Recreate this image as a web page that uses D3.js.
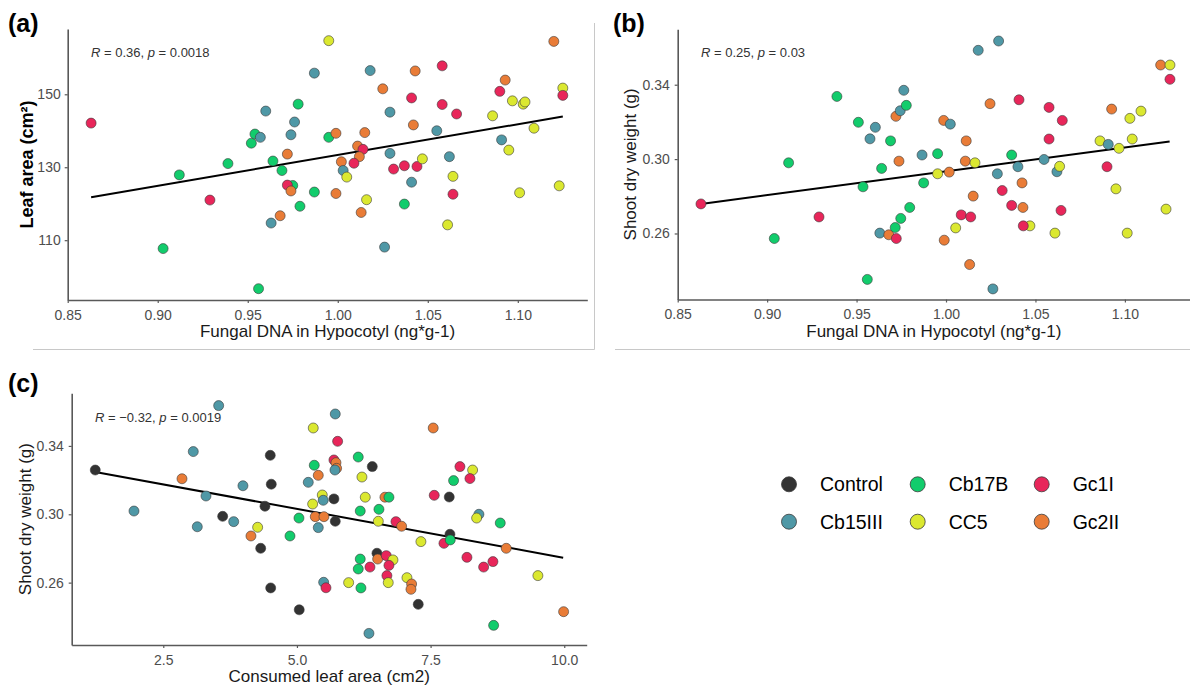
<!DOCTYPE html>
<html><head><meta charset="utf-8">
<script src="https://cdn.jsdelivr.net/npm/d3@7"></script>
<style>
body{margin:0;background:#fff;}
svg{display:block;font-family:"Liberation Sans",Arial,sans-serif;}
</style></head>
<body>
<svg id="chart" width="1190" height="687"></svg>
<script>
// ---------- DATA ----------
const groups = ["Control","Cb15III","Cb17B","CC5","Gc1I","Gc2II"];
const groupColors = ["#333333","#4f98a6","#12cc6c","#dbe830","#e8265a","#e97c37"];
const legendOrder = ["Control","Cb17B","Gc1I","Cb15III","CC5","Gc2II"];

// Panel (a): Fungal DNA vs Leaf area
const aX = [0.863,0.903,0.912,0.929,0.939,0.952,0.954,0.957,0.960,0.956,0.964,0.963,0.969,0.968,0.972,0.975,0.972,0.974,0.974,0.976,0.978,0.979,
0.995,0.987,1.018,1.043,1.058,1.025,1.041,1.029,1.058,1.066,1.042,1.055,0.995,0.999,1.015,1.011,1.014,1.012,1.009,1.002,1.003,1.005,
1.029,1.031,1.037,1.044,1.047,1.041,1.062,1.064,1.064,1.061,1.026,0.987,0.999,1.016,1.013,1.037,1.086,1.090,1.093,1.097,1.103,1.104,
1.109,1.091,1.095,1.101,1.123,1.120,1.125,1.125];
const aY = [142.1,107.7,127.9,121.0,131.0,136.6,139.1,138.2,145.4,96.7,131.7,114.7,129.1,116.7,133.6,125.0,125.1,123.5,138.9,142.4,147.3,119.3,
164.7,155.8,156.5,156.4,157.8,151.5,149.0,145.1,147.2,144.6,141.6,140.0,138.2,139.3,139.5,135.8,134.9,132.9,131.1,131.5,129.1,127.3,
133.8,129.5,130.4,130.2,132.3,125.9,132.9,127.5,122.6,114.2,108.1,123.2,122.8,121.1,117.6,119.9,144.1,150.8,153.9,148.2,147.3,147.9,
140.7,137.5,134.7,123.0,124.9,164.5,151.7,149.7];
const aG = ["Gc1I","Cb17B","Cb17B","Gc1I","Cb17B","Cb17B","Cb17B","Cb15III","Cb15III","Cb17B","Cb17B","Cb15III","Cb17B","Gc2II","Gc2II","Cb17B","Gc1I","Gc2II","Cb15III","Cb15III","Cb17B","Cb17B",
"CC5","Cb15III","Cb15III","Gc2II","Gc1I","Gc2II","Gc1I","Cb15III","Gc1I","Gc1I","Gc2II","Cb15III","Cb17B","Gc2II","Gc2II","Gc2II","Gc1I","Gc2II","Gc1I","Gc2II","Cb15III","CC5",
"Cb15III","Gc1I","Gc1I","Gc1I","CC5","Cb15III","Cb15III","CC5","Gc1I","CC5","Cb15III","Cb17B","Gc2II","CC5","Gc2II","Cb17B","CC5","Gc1I","Gc2II","CC5","CC5","CC5",
"CC5","Cb15III","CC5","CC5","CC5","Gc2II","CC5","Gc1I"];
const aFitX = [0.863,1.125];
const aFitY = [121.8,143.9];

// Panel (b): Fungal DNA vs Shoot dry weight
const bX = [0.863,0.912,0.929,0.904,0.939,0.951,0.9605,0.9575,0.969,0.964,0.9536,0.963,0.968,0.956,0.972,0.9744,0.9764,0.9778,0.9737,0.9716,0.9722,0.9747,0.9797,
0.9875,0.9866,0.9953,0.9953,0.9987,1.0024,1.0018,0.999,1.0054,1.0085,1.0138,1.0152,1.0132,1.0113,1.0108,1.0162,1.018,1.0294,1.0246,1.0287,1.0314,1.0367,1.0367,
1.0402,1.0408,1.0425,1.043,1.0469,1.0432,1.0262,1.0548,1.0576,1.0576,1.065,1.062,1.0635,1.0643,1.0609,1.0861,1.0907,1.0926,1.09,1.095,1.0967,1.1028,1.1041,
1.109,1.1013,1.12,1.1252,1.1252,1.123];
const bY = [0.2759,0.298,0.2689,0.2573,0.3337,0.3198,0.3171,0.3109,0.3098,0.295,0.2851,0.2602,0.2593,0.2353,0.323,0.326,0.337,0.3289,0.2989,0.2632,0.2573,0.2681,0.274,
0.2872,0.3022,0.3029,0.2921,0.3208,0.3188,0.293,0.2564,0.263,0.27,0.2689,0.2801,0.2433,0.3098,0.2989,0.298,0.3585,0.3635,0.3298,0.2921,0.2831,0.2751,0.3022,
0.2959,0.3319,0.2872,0.274,0.2641,0.2641,0.2302,0.2998,0.3278,0.3108,0.3208,0.2932,0.2961,0.2724,0.2602,0.3098,0.3079,0.3269,0.2959,0.284,0.3058,0.3219,0.3108,
0.3258,0.2602,0.3506,0.3506,0.3429,0.2731];
const bG = ["Gc1I","Cb17B","Gc1I","Cb17B","Cb17B","Cb17B","Cb15III","Cb15III","Cb17B","Cb17B","Cb17B","Cb15III","Gc2II","Cb17B","Gc2II","Cb15III","Cb15III","Cb17B","Gc2II","Cb17B","Gc1I","Cb17B","Cb17B",
"Cb17B","Cb15III","Cb17B","CC5","Gc2II","Cb15III","Gc2II","Gc2II","CC5","Gc1I","Gc1I","Gc2II","Gc2II","Gc2II","Gc2II","CC5","Cb15III","Cb15III","Gc2II","Cb15III","Gc1I","Gc1I","Cb17B",
"Cb15III","Gc1I","Gc2II","Gc2II","CC5","Gc1I","Cb15III","Cb15III","Gc1I","Gc1I","Gc1I","Cb15III","CC5","Gc1I","CC5","CC5","Cb15III","Gc2II","Gc1I","CC5","CC5","CC5","CC5",
"CC5","CC5","Gc2II","CC5","Gc1I","CC5"];
const bFitX = [0.863,1.125];
const bFitY = [0.2759,0.3095];

// Panel (c): Consumed leaf area vs Shoot dry weight
const cX = [1.228,1.952,3.061,2.85,3.136,3.299,3.536,3.611,3.817,3.99,4.14,4.265,4.322,4.402,4.501,4.52,4.509,5.043,4.87,5.038,5.305,5.324,5.399,5.212,5.294,5.343,5.399,
5.717,5.761,5.692,5.73,5.742,5.711,6.409,6.147,6.216,5.474,5.492,5.692,6.278,6.646,6.721,6.184,6.534,5.505,5.717,6.522,6.852,6.958,7.568,7.849,8.049,8.286,8.236,
7.93,7.549,8.404,8.361,8.803,7.319,7.75,7.862,7.868,8.915,8.18,8.666,8.492,9.507,9.988,8.679,7.269,6.347,6.497,6.51,6.671,6.796,6.721,6.184,6.147,6.366,6.683,6.708,
6.197,5.967,5.5,5.543,7.058,7.145,7.133];
const cY = [0.3259,0.3019,0.3367,0.3208,0.2927,0.3107,0.3636,0.2988,0.2957,0.3167,0.2873,0.2924,0.2801,0.3047,0.3345,0.3176,0.2569,0.2441,0.2873,0.2978,0.3505,0.3287,0.3228,0.3187,0.306,0.2986,0.2922,
0.3587,0.3427,0.3318,0.3302,0.3269,0.3259,0.3279,0.3335,0.3218,0.3113,0.3082,0.309,0.31,0.31,0.31,0.3019,0.3029,0.2986,0.2959,0.2959,0.2957,0.293,0.3111,0.3101,0.3279,0.3259,0.3209,
0.3197,0.3505,0.30,0.2978,0.2949,0.284,0.283,0.2883,0.285,0.2801,0.2748,0.2723,0.2691,0.2641,0.243,0.235,0.2473,0.2303,0.2772,0.2738,0.2758,0.2733,0.2701,0.2738,0.268,0.2691,0.2641,0.26,
0.2569,0.26,0.2602,0.257,0.2629,0.2592,0.2561];
const cG = ["Control","Cb15III","Cb15III","Gc2II","Cb15III","Cb15III","Cb15III","Control","Cb15III","Cb15III","Gc2II","CC5","Control","Control","Control","Control","Control","Control","Cb17B","Cb17B","CC5","Cb17B","Gc2II","Cb15III","CC5","Gc2II","Cb15III",
"Cb15III","Gc1I","Gc1I","Gc2II","Gc2II","Cb15III","Control","Cb17B","CC5","CC5","Cb15III","Control","CC5","Gc2II","Cb17B","Cb17B","Cb17B","Gc2II","Control","CC5","Gc1I","Gc2II","Gc1I","Control","Gc1I","CC5","Gc1I",
"Cb17B","Gc2II","Cb15III","CC5","Cb17B","CC5","Gc1I","Control","Cb17B","Gc2II","Gc1I","Gc1I","Gc1I","CC5","Gc2II","Cb17B","Control","Cb15III","Control","Gc2II","Gc1I","CC5","Gc1I","Cb17B","Cb17B","Gc1I","Gc1I","CC5",
"Cb17B","CC5","Cb15III","Gc1I","CC5","Gc2II","Gc2II"];
const cFitX = [1.228,9.98];
const cFitY = [0.3248,0.2746];

// tick labels
const abXTicks = [0.85,0.90,0.95,1.00,1.05,1.10];
const aYTicks = [110,130,150];
const bYTicks = [0.26,0.30,0.34];
const cXTicks = [2.5,5.0,7.5,10.0];
const cYTicks = [0.26,0.30,0.34];

// ---------- DRAW ----------
const svg = d3.select("#chart");
const color = d3.scaleOrdinal().domain(groups).range(groupColors);
const axisCol = "#595959";

// panel frame lines
const frame = svg.append("g").attr("stroke","#c8c8c8").attr("stroke-width",1).attr("fill","none");
frame.append("path").attr("d","M594.5,23V349.5H33");
frame.append("path").attr("d","M615,349.5H1190");

function panel(opt){
  const x = d3.scaleLinear().domain(opt.xDom).range(opt.xRange);
  const y = d3.scaleLinear().domain(opt.yDom).range(opt.yRange);
  const g = svg.append("g");
  const xa = g.append("g").attr("transform",`translate(0,${opt.yRange[0]})`)
    .call(d3.axisBottom(x).tickValues(opt.xTicks).tickFormat(d3.format(opt.xFmt)).tickSize(3).tickPadding(7).tickSizeOuter(0));
  const ya = g.append("g").attr("transform",`translate(${opt.xRange[0]},0)`)
    .call(d3.axisLeft(y).tickValues(opt.yTicks).tickFormat(d3.format(opt.yFmt)).tickSize(3).tickPadding(opt.yPad).tickSizeOuter(0));
  [xa,ya].forEach(a=>{
    a.select(".domain").attr("stroke",axisCol).attr("stroke-width",1.6);
    a.selectAll(".tick line").attr("stroke",axisCol).attr("stroke-width",1.2);
    a.selectAll("text").attr("fill","#4d4d4d").style("font-size","14px").attr("font-family","Liberation Sans, Arial, sans-serif");
  });
  // regression line
  g.append("line")
    .attr("x1",x(opt.fitX[0])).attr("y1",y(opt.fitY[0]))
    .attr("x2",x(opt.fitX[1])).attr("y2",y(opt.fitY[1]))
    .attr("stroke","#000").attr("stroke-width",2);
  // points
  g.append("g").selectAll("circle").data(opt.xs.map((d,i)=>({x:d,y:opt.ys[i],g:opt.gs[i]})))
    .join("circle")
    .attr("cx",d=>x(d.x)).attr("cy",d=>y(d.y)).attr("r",5)
    .attr("fill",d=>color(d.g)).attr("stroke","#3a3a3a").attr("stroke-width",0.6);
  // annotation
  const t = g.append("text").attr("x",opt.annX).attr("y",opt.annY)
    .attr("fill","#333").style("font-size","13px");
  t.append("tspan").attr("font-style","italic").text("R");
  t.append("tspan").text(" = "+opt.r+", ");
  t.append("tspan").attr("font-style","italic").text("p");
  t.append("tspan").text(" = "+opt.p);
  // axis titles
  g.append("text").attr("x",(opt.xRange[0]+opt.xTitleEnd)/2).attr("y",opt.yRange[0]+37)
    .attr("text-anchor","middle").attr("fill","#1a1a1a").style("font-size","17px").text(opt.xTitle);
  g.append("text").attr("transform",`translate(${opt.yTitleX},${(opt.yRange[0]+opt.yRange[1])/2}) rotate(-90)`)
    .attr("text-anchor","middle").attr("fill",opt.yTitleBold?"#000":"#1a1a1a")
    .style("font-size",opt.yTitleBold?"18px":"17px").attr("font-weight",opt.yTitleBold?"bold":"normal")
    .text(opt.yTitle);
  // panel label
  svg.append("text").attr("x",opt.labX).attr("y",opt.labY).attr("font-weight","bold")
    .style("font-size","25px").attr("fill","#000").text(opt.label);
}

panel({xDom:[0.85,1.1386],xRange:[67.7,587.3],yDom:[93.6,167.9],yRange:[300,29],
  xTicks:abXTicks,xFmt:".2f",yTicks:aYTicks,yFmt:"d",yPad:4,
  xs:aX,ys:aY,gs:aG,fitX:aFitX,fitY:aFitY,
  annX:91,annY:57,r:"0.36",p:"0.0018",
  xTitle:"Fungal DNA in Hypocotyl (ng*g-1)",xTitleEnd:587.3,
  yTitle:"Leaf area (cm\u00B2)",yTitleX:33,yTitleBold:true,
  label:"(a)",labX:8,labY:32});

panel({xDom:[0.85,1.1364],xRange:[677.7,1190],yDom:[0.2245,0.3698],yRange:[299.5,29.3],
  xTicks:abXTicks,xFmt:".2f",yTicks:bYTicks,yFmt:".2f",yPad:5,
  xs:bX,ys:bY,gs:bG,fitX:bFitX,fitY:bFitY,
  annX:701,annY:57,r:"0.25",p:"0.03",
  xTitle:"Fungal DNA in Hypocotyl (ng*g-1)",xTitleEnd:1190,
  yTitle:"Shoot dry weight (g)",yTitleX:636,yTitleBold:false,
  label:"(b)",labX:613,labY:32});

panel({xDom:[0.787,10.42],xRange:[71.7,586.7],yDom:[0.2235,0.3708],yRange:[645,393.3],
  xTicks:cXTicks,xFmt:".1f",yTicks:cYTicks,yFmt:".2f",yPad:5,
  xs:cX,ys:cY,gs:cG,fitX:cFitX,fitY:cFitY,
  annX:95,annY:422,r:"\u22120.32",p:"0.0019",
  xTitle:"Consumed leaf area (cm2)",xTitleEnd:586.7,
  yTitle:"Shoot dry weight (g)",yTitleX:31,yTitleBold:false,
  label:"(c)",labX:8,labY:392});

// legend
const legX = [789,917.7,1041.7], legY=[484.3,521.7];
const leg = svg.append("g");
legendOrder.forEach((name,i)=>{
  const col = i%3, row = Math.floor(i/3);
  leg.append("circle").attr("cx",legX[col]).attr("cy",legY[row]).attr("r",7.5)
    .attr("fill",color(name)).attr("stroke","#3a3a3a").attr("stroke-width",0.8);
  leg.append("text").attr("x",legX[col]+31).attr("y",legY[row]+7)
    .style("font-size","19.5px").attr("fill","#000").text(name);
});
</script>
</body></html>
